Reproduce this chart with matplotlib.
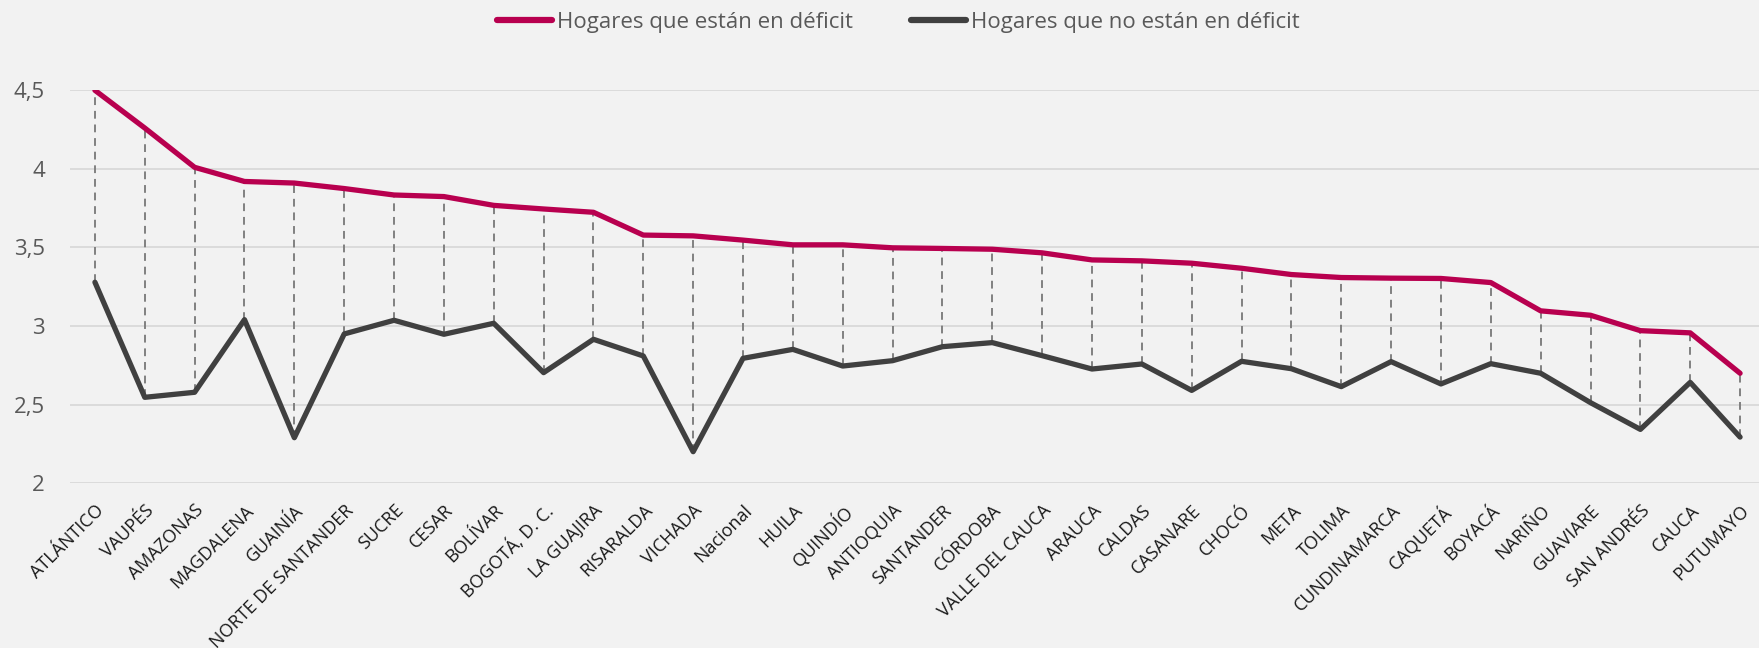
import matplotlib
matplotlib.use("Agg")
import matplotlib.pyplot as plt

plt.rcParams['font.family'] = ['Open Sans', 'DejaVu Sans']

departamentos = ["ATLÁNTICO", "VAUPÉS", "AMAZONAS", "MAGDALENA", "GUAINÍA",
                 "NORTE DE SANTANDER", "SUCRE", "CESAR", "BOLÍVAR", "BOGOTÁ, D. C.",
                 "LA GUAJIRA", "RISARALDA", "VICHADA", "Nacional", "HUILA", "QUINDÍO",
                 "ANTIOQUIA", "SANTANDER", "CÓRDOBA", "VALLE DEL CAUCA", "ARAUCA",
                 "CALDAS", "CASANARE", "CHOCÓ", "META", "TOLIMA", "CUNDINAMARCA",
                 "CAQUETÁ", "BOYACÁ", "NARIÑO", "GUAVIARE", "SAN ANDRÉS", "CAUCA",
                 "PUTUMAYO"]

en_deficit = [4.50, 4.26, 4.01, 3.92, 3.91, 3.875, 3.834, 3.824, 3.768, 3.745,
              3.724, 3.579, 3.574, 3.547, 3.517, 3.517, 3.498, 3.494, 3.489, 3.466,
              3.421, 3.415, 3.400, 3.368, 3.328, 3.309, 3.305, 3.303, 3.277, 3.097,
              3.069, 2.971, 2.957, 2.700]

sin_deficit = [3.279, 2.547, 2.579, 3.041, 2.290, 2.950, 3.037, 2.948, 3.018, 2.704,
               2.916, 2.810, 2.201, 2.795, 2.852, 2.746, 2.780, 2.869, 2.895, 2.812,
               2.727, 2.759, 2.591, 2.776, 2.729, 2.615, 2.774, 2.632, 2.761, 2.700,
               2.513, 2.343, 2.642, 2.294]

yticks = [2, 2.5, 3, 3.5, 4, 4.5]
ytick_labels = ["2", "2,5", "3", "3,5", "4", "4,5"]

W, H = 1759, 648
bg = "#F2F2F2"
fig = plt.figure(figsize=(W / 100, H / 100), dpi=100, facecolor=bg)
left, right, top, bottom = 70, 1765, 90.3, 483.3
ax = fig.add_axes([left / W, 1 - bottom / H, (right - left) / W, (bottom - top) / H])
ax.set_facecolor(bg)

x = list(range(len(departamentos)))

# lineas punteadas entre las dos series
ax.vlines(x, sin_deficit, en_deficit, colors="#808080", linestyles=(0, (4, 3)),
          linewidth=1.4, zorder=2)
ax.plot(x, en_deficit, color="#B8004F", linewidth=3.8, solid_capstyle="round",
        solid_joinstyle="round", zorder=3, label="Hogares que están en déficit")
ax.plot(x, sin_deficit, color="#404040", linewidth=3.8, solid_capstyle="round",
        solid_joinstyle="round", zorder=3, label="Hogares que no están en déficit")

ax.set_xlim(-0.5, len(departamentos) - 0.5)
ax.set_ylim(2, 4.5)
ax.set_yticks(yticks)
ax.set_yticklabels(ytick_labels, fontsize=16, color="#595959")
ax.yaxis.grid(True, color="#D9D9D9", linewidth=1.3, zorder=0)
ax.set_axisbelow(True)
ax.tick_params(axis="y", length=0, pad=18)
ax.tick_params(axis="x", length=0, pad=13)

ax.set_xticks(x)
ax.set_xticklabels(departamentos, rotation=45, ha="right", rotation_mode="anchor",
                   fontsize=13, color="#1a1a1a")

for s in ax.spines.values():
    s.set_visible(False)

leg = fig.legend(loc="center", bbox_to_anchor=(0.5106, 0.966), ncol=2, frameon=False,
                 fontsize=16, handlelength=2.5, handletextpad=0.2, columnspacing=2.6,
                 labelcolor="#595959")
for line in leg.get_lines():
    line.set_linewidth(4.5)

fig.savefig("out.png", dpi=100, facecolor=bg)
